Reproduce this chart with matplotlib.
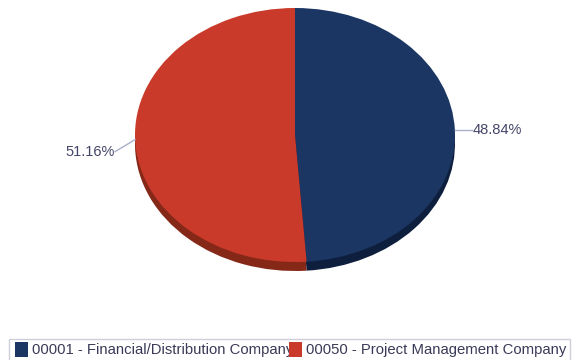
import matplotlib.pyplot as plt
from matplotlib.patches import Rectangle
import numpy as np

# data
companies = ['00001 - Financial/Distribution Company', '00050 - Project Management Company']
shares = [48.84, 51.16]
colors = ['#1c3664', '#c93a2a']
dark_colors = ['#0e1f3e', '#862818']

W, H = 581, 360
fig = plt.figure(figsize=(W / 100, H / 100), dpi=100)
plt.rcParams['font.family'] = ['Liberation Sans', 'DejaVu Sans']

# pie geometry in pixels
cx, cy = 295, 135      # centre (from top)
rx, ry = 160, 127      # radii
depth = 9

ax = fig.add_axes([0, 0, 1, 1])
ax.pie(shares, colors=dark_colors, startangle=90, counterclock=False,
       center=(0, -depth / ry), wedgeprops=dict(linewidth=0))
wedges, _ = ax.pie(shares, colors=colors, startangle=90, counterclock=False,
                   wedgeprops=dict(linewidth=0))
ax.set_aspect('auto')
ax.set_xlim(-cx / rx, (W - cx) / rx)
ax.set_ylim(-(H - cy) / ry, cy / ry)
ax.axis('off')

# percent labels with leader lines
label_col = '#45456a'
line_col = '#a8aecb'
for w, val in zip(wedges, shares):
    mid = np.deg2rad((w.theta1 + w.theta2) / 2)
    ex, ey = np.cos(mid), np.sin(mid)
    if ex >= 0:
        tx, ty = ex + 17 / rx, ey
        ax.plot([ex, tx], [ey, ty], color=line_col, lw=1)
        ax.text(tx + 1 / rx, ty, f'{val:.2f}%', ha='left', va='center',
                fontsize=10.5, color=label_col)
    else:
        tx, ty = ex - 20 / rx, ey - 12 / ry
        ax.plot([ex, tx], [ey, ty], color=line_col, lw=1)
        ax.text(tx, ty, f'{val:.2f}%', ha='right', va='center',
                fontsize=10.5, color=label_col)

# legend drawn by hand (items overlap like the original)
lax = fig.add_axes([0, 0, 1, 1], zorder=5)
lax.set_xlim(0, W)
lax.set_ylim(H, 0)
lax.axis('off')
lax.add_patch(Rectangle((9, 339), 561, 22, fill=False, edgecolor='#cfd0da', lw=1))
starts = [15, 289]
for x0, name, c in zip(starts, companies, colors):
    lax.add_patch(Rectangle((x0, 342), 13, 15, color=c, lw=0, zorder=3))
    lax.text(x0 + 17, 350, name, ha='left', va='center', fontsize=10.7,
             color='#3a3a58', zorder=2)

fig.savefig('out.png', dpi=100)
